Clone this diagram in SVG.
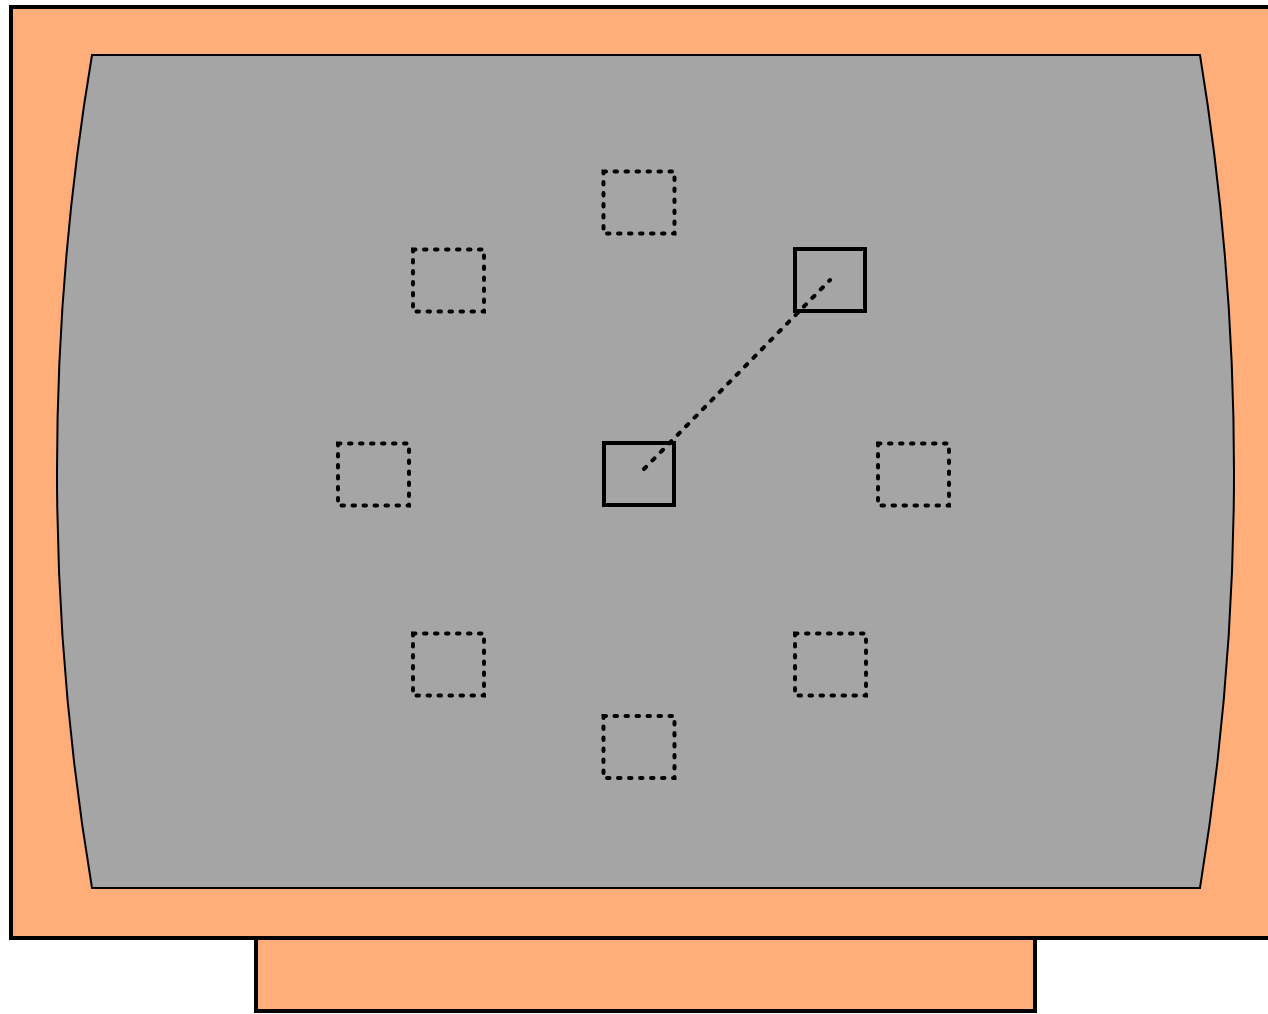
<svg xmlns="http://www.w3.org/2000/svg" width="1268" height="1014" viewBox="0 0 1268 1014">
<style>
.body{fill:#ffae7a;stroke:#000;stroke-width:4}
.screen{fill:#a5a5a5;stroke:#000;stroke-width:2}
.dot{fill:none;stroke:#000;stroke-width:4;stroke-dasharray:2.5 8.5;stroke-linecap:round}
.solid{fill:none;stroke:#000;stroke-width:4}
.conn{fill:none;stroke:#000;stroke-width:4;stroke-dasharray:3 9;stroke-linecap:round}
</style>
<g id="monitor">
<rect class="body" x="11" y="7" width="1270" height="931"/>
<rect class="body" x="256" y="938" width="779" height="73"/>
<path class="screen" d="M92,55 L1200,55 Q1268,471 1200,888 L92,888 Q22,471 92,55 Z"/>
</g>
<g id="node-top"><rect class="dot" x="603.5" y="171.5" width="71" height="62"/></g>
<g id="node-upleft"><rect class="dot" x="413" y="249.5" width="71" height="62"/></g>
<g id="node-left"><rect class="dot" x="338" y="443.5" width="71" height="62"/></g>
<g id="node-right"><rect class="dot" x="878" y="443.5" width="71" height="62"/></g>
<g id="node-lowleft"><rect class="dot" x="413" y="633.5" width="71" height="62"/></g>
<g id="node-lowright"><rect class="dot" x="795" y="633.5" width="71" height="62"/></g>
<g id="node-bottom"><rect class="dot" x="603.5" y="716" width="71" height="62"/></g>
<g id="node-center"><rect class="solid" x="604" y="443" width="70" height="62"/></g>
<g id="node-upright"><rect class="solid" x="795" y="249" width="70" height="62"/></g>
<g id="connectors">
<line class="conn" x1="644" y1="469" x2="830" y2="280"/>
</g>
</svg>
